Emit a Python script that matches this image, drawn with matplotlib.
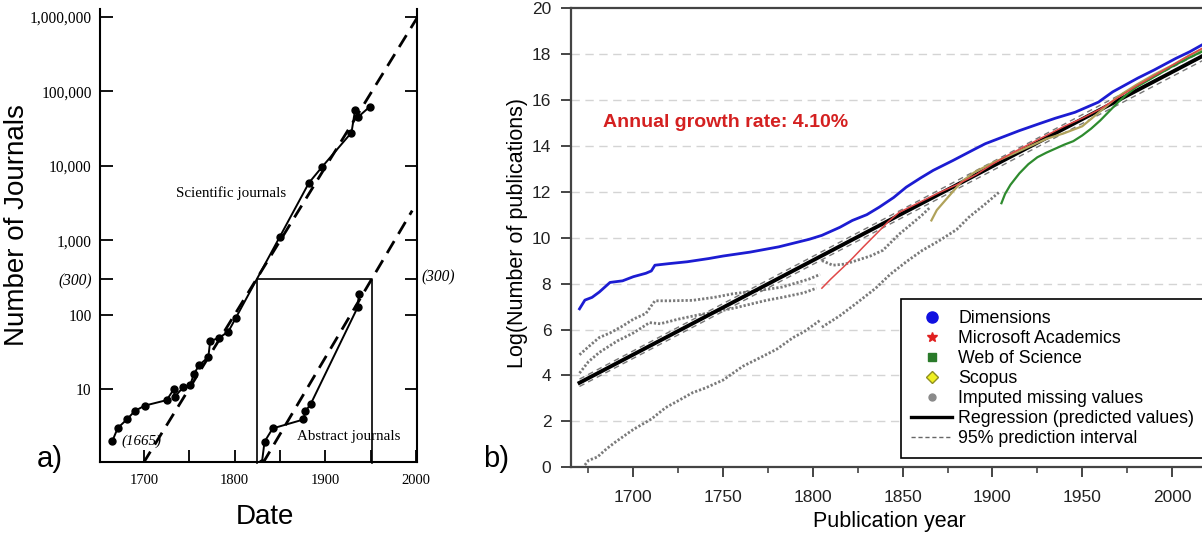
import matplotlib
matplotlib.use('Agg')
import matplotlib.pyplot as plt
from matplotlib.lines import Line2D

# ---------------- data: panel a ----------------
sci_years = [1665, 1671, 1681, 1690, 1701, 1725, 1733, 1734, 1743, 1751, 1755, 1761, 1771, 1773,
             1783, 1793, 1801, 1850, 1882, 1896, 1929, 1933, 1936, 1949]
sci_values = [2.0, 3.0, 3.9, 5.1, 6.0, 7.1, 10.0, 7.9, 10.5, 11.3, 16, 21, 27, 44,
              49, 59, 89, 1120, 5900, 9500, 28000, 57000, 45000, 62000]
abs_years = [1830, 1833, 1842, 1876, 1878, 1884, 1936, 1937]
abs_values = [1.0, 1.96, 2.96, 3.9, 5.0, 6.3, 127, 190]
sci_fit_years = [1699, 2002]
sci_fit_values = [1.0, 1.0e6]
abs_fit_years = [1831, 1996]
abs_fit_values = [1.0, 2500]
box_years = [1825, 1825, 1952, 1952]
box_values = [1.0, 300, 300, 1.0]
a_yticks = [10, 100, 300, 1000, 10000, 100000, 1000000]
a_yticklabels = ['10', '100', '(300)', '1,000', '10,000', '100,000', '1,000,000']
a_xticks = [1700, 1800, 1900, 2000]
a_xminor = [1750, 1850, 1950]

# ---------------- data: panel b ----------------
dim_years = [1670, 1673, 1677, 1681, 1687, 1694, 1700, 1707, 1710, 1712, 1720, 1730, 1742, 1750,
             1765, 1781, 1798, 1805, 1815, 1822, 1830, 1837, 1845, 1852, 1860, 1867, 1878, 1890,
             1896, 1904, 1915, 1926, 1935, 1946, 1959, 1967, 1981, 1990, 2002, 2010, 2018]
dim_values = [6.9, 7.28, 7.4, 7.63, 8.05, 8.12, 8.3, 8.45, 8.55, 8.8, 8.87, 8.95, 9.09, 9.2,
              9.37, 9.6, 9.93, 10.1, 10.45, 10.75, 11.0, 11.33, 11.75, 12.2, 12.6, 12.93, 13.36, 13.85,
              14.09, 14.33, 14.66, 14.96, 15.2, 15.46, 15.9, 16.35, 16.95, 17.3, 17.8, 18.1, 18.45]
mag_years = [1805, 1810, 1817, 1822, 1828, 1837, 1842, 1848, 1861, 1870, 1880, 1891, 1900, 1910,
             1920, 1930, 1940, 1950, 1960, 1970, 1980, 1990, 2000, 2010, 2018]
mag_values = [7.8, 8.2, 8.72, 9.1, 9.59, 10.3, 10.7, 11.1, 11.6, 11.95, 12.3, 12.75, 13.2, 13.65,
              14.05, 14.45, 14.85, 15.2, 15.6, 16.1, 16.6, 17.05, 17.5, 17.95, 18.3]
wos_years = [1905, 1907, 1910, 1915, 1920, 1925, 1930, 1940, 1945, 1950, 1955, 1960, 1965, 1970,
             1975, 1980, 1990, 2000, 2010, 2018]
wos_values = [11.5, 11.9, 12.3, 12.8, 13.2, 13.5, 13.7, 14.05, 14.2, 14.45, 14.75, 15.1, 15.5, 15.9,
              16.25, 16.55, 17.0, 17.45, 17.85, 18.15]
sco_years = [1866, 1869, 1874, 1879, 1883, 1890, 1900, 1910, 1920, 1930, 1940, 1950, 1960, 1970,
             1980, 1990, 2000, 2010, 2018]
sco_values = [10.75, 11.2, 11.65, 12.1, 12.45, 12.85, 13.25, 13.6, 13.95, 14.3, 14.55, 14.85, 15.5, 16.15,
              16.65, 17.1, 17.5, 17.95, 18.25]
imp1_years = [1670, 1675, 1681, 1687, 1694, 1700, 1707, 1712, 1720, 1733, 1745, 1755, 1770, 1783, 1798, 1804]
imp1_values = [4.9, 5.25, 5.65, 5.85, 6.15, 6.45, 6.7, 7.25, 7.25, 7.27, 7.4, 7.55, 7.7, 7.85, 8.2, 8.4]
imp2_years = [1670, 1675, 1681, 1687, 1691, 1700, 1709, 1715, 1725, 1737, 1745, 1757, 1765, 1774,
              1783, 1789, 1795, 1802]
imp2_values = [4.1, 4.6, 5.0, 5.3, 5.5, 5.85, 6.3, 6.25, 6.45, 6.65, 6.75, 6.95, 7.1, 7.27,
               7.4, 7.5, 7.6, 7.8]
imp3_years = [1673, 1675, 1680, 1685, 1690, 1700, 1710, 1718, 1725, 1733, 1740, 1750, 1761, 1770,
              1780, 1789, 1795, 1804]
imp3_values = [0.1, 0.3, 0.45, 0.8, 1.1, 1.65, 2.1, 2.6, 2.9, 3.25, 3.45, 3.8, 4.4, 4.75,
               5.15, 5.65, 5.9, 6.4]
imp4_years = [1805, 1811, 1818, 1824, 1832, 1839, 1848, 1855, 1861, 1865]
imp4_values = [9.0, 8.8, 8.85, 9.0, 9.2, 9.45, 10.15, 10.6, 11.0, 11.3]
imp5_years = [1805, 1815, 1824, 1835, 1843, 1852, 1861, 1870, 1880, 1887, 1895, 1904]
imp5_values = [6.1, 6.6, 7.13, 7.8, 8.4, 8.95, 9.45, 9.85, 10.35, 10.9, 11.4, 12.0]
reg_years = [1670, 2018]
reg_values = [3.68, 17.95]
pi_low_values = [3.52, 17.75]
pi_high_values = [3.84, 18.15]
b_yticks = [0, 2, 4, 6, 8, 10, 12, 14, 16, 18, 20]
b_xticks = [1700, 1750, 1800, 1850, 1900, 1950, 2000]
b_xminor = [1675, 1725, 1775, 1825, 1875, 1925, 1975]
legend_labels = ['Dimensions', 'Microsoft Academics', 'Web of Science', 'Scopus',
                 'Imputed missing values', 'Regression (predicted values)', '95% prediction interval']

# ---------------- figure ----------------
W, H = 1202, 535
fig = plt.figure(figsize=(W / 100, H / 100), dpi=100)


def fx(px):
    return px / W


def fy(py):
    return 1 - py / H


SERIF = ['Liberation Serif', 'DejaVu Serif']
SANS = ['Liberation Sans', 'DejaVu Sans']

# ---------------- panel a ----------------
axa = fig.add_axes([fx(100), fy(462), fx(417) - fx(100), fy(9) - fy(462)])
axa.set_yscale('log')
axa.set_xlim(1651.4, 2001.3)
axa.set_ylim(1.047, 1.28e6)
axa.plot(sci_fit_years, sci_fit_values, color='black', lw=2.0, ls=(0, (5, 3)), zorder=2)
axa.plot(abs_fit_years, abs_fit_values, color='black', lw=2.0, ls=(0, (5, 3)), zorder=2)
axa.plot(box_years, box_values, color='black', lw=1.2, zorder=2, clip_on=False)
axa.plot(sci_years, sci_values, color='black', lw=1.4, marker='o', ms=5, zorder=3)
axa.plot(abs_years, abs_values, color='black', lw=1.4, marker='o', ms=5, zorder=3)
axa.spines['top'].set_visible(False)
for s in ['left', 'right', 'bottom']:
    axa.spines[s].set_linewidth(1.5)
axa.set_yticks(a_yticks)
axa.set_yticklabels(a_yticklabels, fontfamily=SERIF, fontsize=11.2)
for lab in axa.get_yticklabels():
    if lab.get_text().startswith('('):
        lab.set_fontstyle('italic')
axa.yaxis.set_minor_locator(matplotlib.ticker.NullLocator())
axa.set_xticks(a_xticks)
axa.set_xticklabels([str(v) for v in a_xticks], fontfamily=SERIF, fontsize=10.5)
axa.set_xticks(a_xminor, minor=True)
axa.tick_params(axis='y', which='major', direction='in', length=9, width=1.3, left=True, right=True, pad=6)
axa.tick_params(axis='x', which='both', direction='in', length=9, width=1.3, pad=9)
axa.text(1796, 4300, 'Scientific journals', fontfamily=SERIF, fontsize=10.8, ha='center', va='center')
axa.text(1926, 2.27, 'Abstract journals', fontfamily=SERIF, fontsize=10.8, ha='center', va='center')
axa.text(1697, 2.0, '(1665)', fontfamily=SERIF, fontsize=10.8, style='italic', ha='center', va='center')
fig.text(fx(438), fy(277), '(300)', fontfamily=SERIF, fontsize=11.2, style='italic', ha='center', va='center')
fig.text(fx(17), fy(225), 'Number of Journals', family=SANS, fontsize=20, rotation=90, ha='center', va='center')
fig.text(fx(265), fy(517), 'Date', family=SANS, fontsize=20, ha='center', va='center')
fig.text(fx(50), fy(459), 'a)', family=SANS, fontsize=21, ha='center', va='center')

# ---------------- panel b ----------------
axb = fig.add_axes([fx(570.7), fy(467.3), 1 - fx(570.7), fy(8) - fy(467.3)])
axb.set_xlim(1665.1, 2016.7)
axb.set_ylim(0, 20)
for yv in b_yticks[1:-1]:
    axb.axhline(yv, color='#d4d4d4', lw=1.0, ls=(0, (6, 4)), zorder=0)
grey = '#7a7a7a'
for yy, vv in [(imp1_years, imp1_values), (imp2_years, imp2_values), (imp3_years, imp3_values),
               (imp4_years, imp4_values), (imp5_years, imp5_values)]:
    axb.plot(yy, vv, color=grey, lw=2.0, ls=(0, (0.8, 0.7)), zorder=2)
axb.plot(reg_years, pi_low_values, color='#777777', lw=1.0, ls=(0, (4, 3)), zorder=3)
axb.plot(reg_years, pi_high_values, color='#777777', lw=1.0, ls=(0, (4, 3)), zorder=3)
axb.plot(reg_years, reg_values, color='black', lw=2.8, zorder=4)
axb.plot(sco_years, sco_values, color='#b0a25a', lw=1.6, zorder=5)
axb.plot(wos_years, wos_values, color='#2e8b2e', lw=1.6, zorder=5)
axb.plot(mag_years, mag_values, color='#e04848', lw=1.1, zorder=6)
axb.plot(dim_years, dim_values, color='#1c1cd2', lw=2.0, zorder=6)

axb.spines['right'].set_visible(False)
for s in ['left', 'top', 'bottom']:
    axb.spines[s].set_linewidth(1.6)
    axb.spines[s].set_color('#444444')
axb.set_yticks(b_yticks)
axb.set_yticklabels([str(v) for v in b_yticks], family=SANS, fontsize=12.5, color='#222222')
axb.set_xticks(b_xticks)
axb.set_xticklabels([str(v) for v in b_xticks], family=SANS, fontsize=12.5, color='#222222')
axb.set_xticks(b_xminor, minor=True)
axb.tick_params(axis='both', which='major', direction='out', length=7, width=1.4, color='#444444')
axb.tick_params(axis='y', pad=7)
axb.tick_params(axis='x', which='major', pad=9)
axb.tick_params(axis='x', which='minor', direction='out', length=4, width=1.2, color='#444444')
axb.text(1683, 15.0, 'Annual growth rate: 4.10%', family=SANS, fontsize=14, fontweight='bold',
         color='#d42020', ha='left', va='center')
fig.text(fx(517), fy(233), 'Log(Number of publications)', family=SANS, fontsize=15.5, rotation=90,
         ha='center', va='center')
fig.text(fx(889), fy(522), 'Publication year', family=SANS, fontsize=15.5, ha='center', va='center')
fig.text(fx(496), fy(459), 'b)', family=SANS, fontsize=21, ha='center', va='center')

handles = [
    Line2D([], [], ls='none', marker='o', ms=8, color='#1010e0'),
    Line2D([], [], ls='none', marker='*', ms=7, color='#e02020'),
    Line2D([], [], ls='none', marker='s', ms=6, color='#2a7a2a'),
    Line2D([], [], ls='none', marker='D', ms=6, markerfacecolor='#f0f020', markeredgecolor='#909020'),
    Line2D([], [], ls='none', marker='o', ms=5, color='#8a8a8a'),
    Line2D([], [], color='black', lw=2.4),
    Line2D([], [], color='#666666', lw=1.0, ls=(0, (3, 2))),
]
leg = axb.legend(handles, legend_labels, loc='upper left', bbox_to_anchor=(fx(900.5), fy(299.3)),
                 bbox_transform=fig.transFigure, borderaxespad=0, frameon=True, fancybox=False,
                 edgecolor='black', framealpha=1, prop={'family': SANS, 'size': 12.8},
                 handlelength=2.3, handletextpad=0.35, labelspacing=0.17, borderpad=0.6)
leg.get_frame().set_linewidth(1.2)
leg.set_zorder(10)

fig.savefig('out.png', dpi=100)
